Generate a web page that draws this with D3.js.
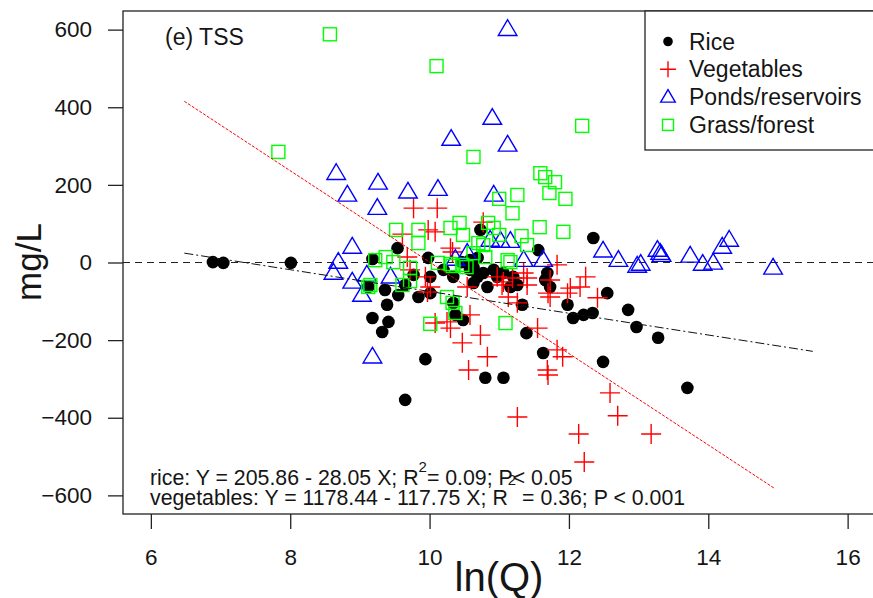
<!DOCTYPE html>
<html>
<head>
<meta charset="utf-8">
<script src="https://cdn.jsdelivr.net/npm/d3@7"></script>
<style>
  html, body { margin: 0; padding: 0; background: #fff; }
  svg { display: block; font-family: "Liberation Sans", Arial, sans-serif; }
</style>
</head>
<body>
<svg id="chart" width="873" height="598"></svg>
<script>
// ---- data: ln(Q) vs TSS change (mg/L) by land use ----
const riceLnQ = [6.89, 7.04, 8.01, 9.18, 9.12, 9.18, 9.36, 9.39, 9.41, 9.32, 9.55, 9.84, 10.01, 9.65, 9.94, 9.65,
  10.34, 10.37, 10.48, 9.54, 9.98, 10.01, 9.77, 10.73, 11.56, 12.35, 10.58, 10.69, 10.77, 10.83, 11.16, 11.33,
  11.69, 11.73, 11.98, 12.06, 12.21, 12.34, 12.55, 12.85, 12.97, 13.28, 11.39, 11.63, 12.49, 13.70, 11.06, 10.80,
  10.63, 10.46, 10.58, 10.69, 10.63, 10.92, 10.97, 11.06, 11.20, 11.26, 11.66, 10.34, 10.20];
const riceTSS = [1, -1, -1, 9, -63, -143, -71, -109, -153, -179, -84, -89, -79, -58, -249, -354,
  -104, -135, -148, 37, 12, -37, -32, 84, 32, 63, -19, -37, -27, -63, -63, -109,
  -27, -63, -109, -143, -135, -130, -79, -122, -166, -194, -182, -233, -256, -323, -297, -297,
  -53, 1, 6, 12, -12, -19, -37, -27, -37, -58, -45, -37, -19];

const vegLnQ = [9.77, 10.11, 9.61, 9.98, 10.08, 10.30, 10.77, 9.72, 9.94, 10.01, 10.54, 10.97, 11.06, 11.13, 11.26,
  11.35, 11.40, 11.83, 11.73, 12.02, 12.16, 11.73, 12.41, 10.58, 10.25, 10.08, 12.24, 11.98, 11.55, 11.83, 11.91,
  11.69, 11.70, 12.59, 12.70, 11.26, 10.73, 10.83, 10.56, 10.47, 12.14, 12.22, 13.18, 11.04, 11.40, 11.70, 11.19,
  9.68, 10.33, 9.97, 10.30];
const vegTSS = [140, 140, 73, 84, 79, 37, 104, -19, -37, -63, -63, -37, -50, -89, -104,
  -27, -40, -6, -45, -66, -63, -89, -91, -135, -153, -156, -37, -79, -169, -225, -243,
  -277, -290, -336, -395, -398, -187, -243, -277, -207, -442, -514, -442, -58, -58, -79, -40,
  14, 27, -76, -169];

const pondLnQ = [11.12, 10.90, 10.31, 11.12, 8.66, 8.82, 9.26, 9.25, 9.69, 10.12, 8.89, 8.69, 8.62, 8.89, 9.10,
  9.03, 9.18, 9.44, 10.92, 10.87, 11.02, 11.16, 10.54, 11.35, 11.63, 12.49, 12.71, 12.98, 13.03, 13.27, 13.31,
  13.33, 13.74, 13.92, 14.07, 14.20, 14.30, 14.93, 10.37];
const pondTSS = [601, 372, 318, 303, 230, 174, 205, 140, 182, 189, 40, 1, -27, -50, -32,
  -84, -243, -37, 174, 58, 55, 55, 24, 6, 6, 30, 6, -9, -4, 32, 24,
  19, 17, -4, -1, 40, 58, -14, 9];

const grassLnQ = [8.57, 7.83, 10.10, 12.19, 10.63, 11.59, 11.66, 11.80, 11.72, 11.95, 11.26, 11.00, 11.19, 11.58,
  11.92, 11.32, 11.40, 10.84, 10.92, 11.00, 10.43, 10.48, 10.70, 10.80, 11.12, 10.53, 11.09, 10.01, 9.52, 9.84,
  9.84, 10.30, 9.37, 9.48, 9.22, 9.72, 10.12, 10.30, 9.72, 9.61, 9.15, 10.25, 10.33, 10.37, 10.33, 10.47, 10.63,
  10.77, 11.16, 9.12];
const grassTSS = [588, 285, 506, 352, 272, 230, 220, 207, 179, 164, 174, 164, 127, 91,
  79, 68, 45, 102, 89, 71, 102, 71, 50, 14, 6, -12, -156, -158, 84, 84,
  50, 89, 14, 1, 6, -14, -1, -4, -48, -58, -58, -89, -104, -130, -9, -6, 24,
  45, 1, -63];

// fitted lines: intercept, slope, ln(Q) span
const riceFit = [205.86, -28.05];
const riceFitSpan = [6.48, 15.5];
const vegFit = [1178.44, -117.75];
const vegFitSpan = [6.48, 14.96];

const xTicks = [6, 8, 10, 12, 14, 16];
const yTicks = [-600, -400, -200, 0, 200, 400, 600];
const legendLabels = ["Rice", "Vegetables", "Ponds/reservoirs", "Grass/forest"];
const panelTitle = "(e) TSS";
const eqRice = ["rice: Y = 205.86 - 28.05 X; R", "2", "= 0.09; P< 0.05"];
const eqVeg = ["vegetables: Y = 1178.44 - 117.75 X; R", "2", " = 0.36; P < 0.001"];

// ---- layout ----
const svg = d3.select("#chart");
const plot = { left: 123, right: 875.5, top: 11, bottom: 514 };
const x = d3.scaleLinear().domain([5.6, 16.4]).range([plot.left, plot.right]);
const y = d3.scaleLinear().domain([-648, 648]).range([plot.bottom, plot.top]);
const ink = "#151515";

// zero reference line
svg.append("line")
  .attr("x1", plot.left).attr("x2", plot.right)
  .attr("y1", y(0)).attr("y2", y(0))
  .attr("stroke", "#222").attr("stroke-width", 1.2)
  .attr("stroke-dasharray", "7,5");

// points
const pts = (xs, ys) => xs.map((v, i) => [v, ys[i]]);

svg.append("g").selectAll("circle").data(pts(riceLnQ, riceTSS)).join("circle")
  .attr("cx", d => x(d[0])).attr("cy", d => y(d[1])).attr("r", 6.3).attr("fill", "#000");

svg.append("g").selectAll("path").data(pts(vegLnQ, vegTSS)).join("path")
  .attr("transform", d => `translate(${x(d[0])},${y(d[1])})`)
  .attr("d", "M-10,0H10M0,-10V10")
  .attr("stroke", "#ff0000").attr("stroke-width", 1.4).attr("fill", "none");

svg.append("g").selectAll("path").data(pts(pondLnQ, pondTSS)).join("path")
  .attr("transform", d => `translate(${x(d[0])},${y(d[1])})`)
  .attr("d", "M0,-9.5L9.3,6.2L-9.3,6.2Z")
  .attr("stroke", "#0000ff").attr("stroke-width", 1.4).attr("fill", "none");

svg.append("g").selectAll("rect").data(pts(grassLnQ, grassTSS)).join("rect")
  .attr("x", d => x(d[0]) - 6.5).attr("y", d => y(d[1]) - 6.5)
  .attr("width", 13).attr("height", 13)
  .attr("stroke", "#00ff00").attr("stroke-width", 1.4).attr("fill", "none");

// regression lines
function fitLine(coef, span, color, dash) {
  svg.append("line")
    .attr("x1", x(span[0])).attr("y1", y(coef[0] + coef[1] * span[0]))
    .attr("x2", x(span[1])).attr("y2", y(coef[0] + coef[1] * span[1]))
    .attr("stroke", color).attr("stroke-width", 1).attr("stroke-dasharray", dash);
}
fitLine(riceFit, riceFitSpan, "#111", "9,3,2,3");
fitLine(vegFit, vegFitSpan, "#ff0000", "3,1.5");

// frame
svg.append("rect")
  .attr("x", plot.left).attr("y", plot.top)
  .attr("width", plot.right - plot.left).attr("height", plot.bottom - plot.top)
  .attr("fill", "none").attr("stroke", "#222").attr("stroke-width", 1.3);

// y axis
const yAxis = svg.append("g").attr("transform", `translate(${plot.left},0)`)
  .call(d3.axisLeft(y).tickValues(yTicks).tickSize(15).tickPadding(16).tickFormat(d3.format("d")));
yAxis.select(".domain").remove();
yAxis.selectAll("line").attr("stroke", "#222").attr("stroke-width", 1.3);
yAxis.selectAll("text").attr("font-size", 22.5).attr("fill", ink)
  .attr("font-family", "Liberation Sans, Arial, sans-serif");

// x axis
const xAxis = svg.append("g").attr("transform", `translate(0,${plot.bottom})`)
  .call(d3.axisBottom(x).tickValues(xTicks).tickSize(15).tickPadding(20).tickFormat(d3.format("d")));
xAxis.select(".domain").remove();
xAxis.selectAll("line").attr("stroke", "#222").attr("stroke-width", 1.3);
xAxis.selectAll("text").attr("font-size", 22.5).attr("fill", ink)
  .attr("font-family", "Liberation Sans, Arial, sans-serif");

// axis titles
svg.append("text").attr("x", 499).attr("y", 591).attr("text-anchor", "middle")
  .attr("font-size", 40).attr("fill", ink).text("ln(Q)");
svg.append("text").attr("transform", "translate(41,262) rotate(-90)").attr("text-anchor", "middle")
  .attr("font-size", 35).attr("fill", ink).text("mg/L");

// panel title
svg.append("text").attr("x", 165).attr("y", 45).attr("font-size", 23).attr("fill", ink).text(panelTitle);

// equations
function eq(parts, yBase, lift) {
  const t = svg.append("text").attr("x", 150).attr("y", yBase).attr("font-size", 21.3).attr("fill", ink);
  t.append("tspan").text(parts[0]);
  t.append("tspan").attr("dy", -lift).attr("font-size", 15).text(parts[1]);
  t.append("tspan").attr("dy", lift).text(parts[2]);
}
eq(eqRice, 485, 13);
eq(eqVeg, 505, 20);

// legend
const lg = svg.append("g");
lg.append("rect").attr("x", 645).attr("y", plot.top).attr("width", 240).attr("height", 139)
  .attr("fill", "#fff").attr("stroke", "#222").attr("stroke-width", 1.3);
const rowY = i => 41.5 + i * 27.8;
const symX = 668;
lg.append("circle").attr("cx", symX).attr("cy", rowY(0)).attr("r", 4.8).attr("fill", "#000");
lg.append("path").attr("transform", `translate(${symX},${rowY(1)})`).attr("d", "M-8,0H8M0,-8V8")
  .attr("stroke", "#ff0000").attr("stroke-width", 1.4);
lg.append("path").attr("transform", `translate(${symX},${rowY(2)})`).attr("d", "M0,-7.5L7.3,5L-7.3,5Z")
  .attr("stroke", "#0000ff").attr("stroke-width", 1.4).attr("fill", "none");
lg.append("rect").attr("x", symX - 5.5).attr("y", rowY(3) - 5.5).attr("width", 11).attr("height", 11)
  .attr("stroke", "#00ff00").attr("stroke-width", 1.4).attr("fill", "none");
lg.selectAll("text.lab").data(legendLabels).join("text").attr("class", "lab")
  .attr("x", 689).attr("y", (d, i) => rowY(i) + 8).attr("font-size", 23).attr("fill", ink).text(d => d);
</script>
</body>
</html>
